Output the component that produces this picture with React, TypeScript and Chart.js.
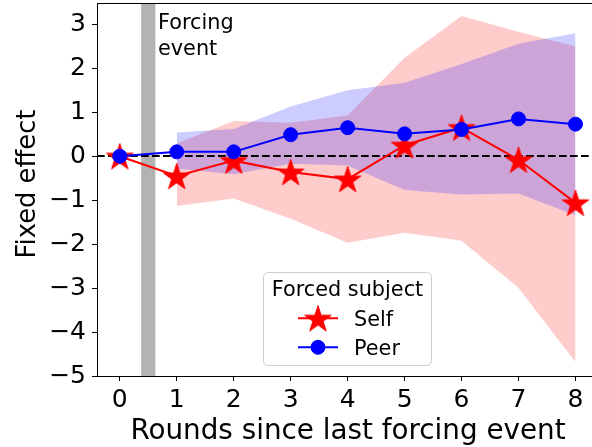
import React, { useEffect, useRef } from 'react';
import { Chart, registerables } from 'chart.js';

Chart.register(...registerables);

const rounds = [0, 1, 2, 3, 4, 5, 6, 7, 8];
const selfEffect = [0, -0.45, -0.1, -0.36, -0.52, 0.25, 0.65, -0.08, -1.06];
const peerEffect = [0, 0.1, 0.1, 0.49, 0.65, 0.51, 0.61, 0.85, 0.73];
const ciRounds = [1, 2, 3, 4, 5, 6, 7, 8];
const selfUpper = [0.29, 0.8, 0.76, 0.93, 2.24, 3.19, 2.83, 2.5];
const selfLower = [-1.13, -0.96, -1.42, -1.97, -1.74, -1.92, -3.0, -4.68];
const peerUpper = [0.54, 0.62, 1.13, 1.5, 1.67, 2.1, 2.56, 2.8];
const peerLower = [-0.28, -0.41, -0.17, -0.21, -0.77, -0.87, -0.85, -1.34];
const xTicks = [0, 1, 2, 3, 4, 5, 6, 7, 8];
const yTicks = [-5, -4, -3, -2, -1, 0, 1, 2, 3];
const forcingSpan = [0.375, 0.625];
const legendTitle = 'Forced subject';
const seriesNames = ['Self', 'Peer'];
const xTitle = 'Rounds since last forcing event';
const yTitle = 'Fixed effect';
const forcingLabel = ['Forcing', 'event'];

const FONT = '"DejaVu Sans", sans-serif';
const STAR_R = 14;

function starPath(ctx: CanvasRenderingContext2D, cx: number, cy: number, R: number) {
  const r = R * 0.381966;
  ctx.beginPath();
  for (let i = 0; i < 10; i++) {
    const rad = i % 2 === 0 ? R : r;
    const a = -Math.PI / 2 + (i * Math.PI) / 5;
    const px = cx + rad * Math.cos(a);
    const py = cy + rad * Math.sin(a);
    if (i === 0) ctx.moveTo(px, py);
    else ctx.lineTo(px, py);
  }
  ctx.closePath();
}

function makeStar(): HTMLCanvasElement {
  const c = document.createElement('canvas');
  const s = Math.ceil(STAR_R * 2 + 4);
  c.width = s;
  c.height = s;
  const ctx = c.getContext('2d')!;
  starPath(ctx, s / 2, s / 2 + STAR_R * 0.095, STAR_R);
  ctx.fillStyle = '#ff0000';
  ctx.fill();
  ctx.strokeStyle = '#ff0000';
  ctx.lineWidth = 1;
  ctx.stroke();
  return c;
}

const pts = (xs: number[], ys: number[]) => xs.map((x, i) => ({ x, y: ys[i] }));

export default function App() {
  const ref = useRef<HTMLCanvasElement>(null);
  useEffect(() => {
    const canvas = ref.current!;
    const star = makeStar();

    const decor = {
      id: 'decor',
      beforeDatasetsDraw(chart: any) {
        const { ctx, chartArea } = chart;
        const xs = chart.scales.x;
        ctx.save();
        ctx.fillStyle = '#b3b3b3';
        const x0 = xs.getPixelForValue(forcingSpan[0]);
        const x1 = xs.getPixelForValue(forcingSpan[1]);
        ctx.fillRect(x0, chartArea.top, x1 - x0, chartArea.bottom - chartArea.top);
        ctx.restore();
      },
      beforeDatasetDraw(chart: any, args: any) {
        if (args.index !== 1) return;
        const { ctx, chartArea } = chart;
        const y0 = Math.round(chart.scales.y.getPixelForValue(0));
        ctx.save();
        ctx.strokeStyle = '#000';
        ctx.lineWidth = 2;
        ctx.setLineDash([7.7, 3.3]);
        ctx.beginPath();
        ctx.moveTo(chartArea.left, y0);
        ctx.lineTo(chartArea.right, y0);
        ctx.stroke();
        ctx.restore();
      },
      afterDraw(chart: any) {
        const { ctx, chartArea } = chart;
        ctx.save();
        // top spine
        ctx.strokeStyle = '#000';
        ctx.lineWidth = 1;
        ctx.beginPath();
        ctx.moveTo(chartArea.left, Math.floor(chartArea.top) + 0.5);
        ctx.lineTo(chartArea.right, Math.floor(chartArea.top) + 0.5);
        ctx.stroke();

        // forcing label
        ctx.fillStyle = '#000';
        ctx.font = `20.8px ${FONT}`;
        ctx.textAlign = 'left';
        ctx.textBaseline = 'alphabetic';
        ctx.fillText(forcingLabel[0], 158, 28.5);
        ctx.fillText(forcingLabel[1], 158, 55);

        // axis titles
        ctx.font = `27.8px ${FONT}`;
        ctx.textAlign = 'center';
        ctx.fillText(xTitle, 348, 439.3);
        ctx.font = `25.8px ${FONT}`;
        ctx.save();
        ctx.translate(35, 184);
        ctx.rotate(-Math.PI / 2);
        ctx.fillText(yTitle, 0, 0);
        ctx.restore();

        // legend
        const bx = 263.5, by = 272.5, bw = 168, bh = 93, rr = 5;
        ctx.beginPath();
        ctx.moveTo(bx + rr, by);
        ctx.lineTo(bx + bw - rr, by);
        ctx.quadraticCurveTo(bx + bw, by, bx + bw, by + rr);
        ctx.lineTo(bx + bw, by + bh - rr);
        ctx.quadraticCurveTo(bx + bw, by + bh, bx + bw - rr, by + bh);
        ctx.lineTo(bx + rr, by + bh);
        ctx.quadraticCurveTo(bx, by + bh, bx, by + bh - rr);
        ctx.lineTo(bx, by + rr);
        ctx.quadraticCurveTo(bx, by, bx + rr, by);
        ctx.closePath();
        ctx.fillStyle = 'rgba(255,255,255,0.8)';
        ctx.fill();
        ctx.strokeStyle = '#cccccc';
        ctx.lineWidth = 1;
        ctx.stroke();

        ctx.fillStyle = '#000';
        ctx.font = `20.8px ${FONT}`;
        ctx.textAlign = 'center';
        ctx.textBaseline = 'alphabetic';
        ctx.fillText(legendTitle, 347.5, 295.7);

        const rows = [318.3, 347.3];
        const colors = ['#ff0000', '#0000ff'];
        rows.forEach((ry, i) => {
          ctx.strokeStyle = colors[i];
          ctx.lineWidth = 2;
          ctx.beginPath();
          ctx.moveTo(298, ry);
          ctx.lineTo(338, ry);
          ctx.stroke();
          if (i === 0) {
            ctx.drawImage(star, 318 - star.width / 2, ry - star.height / 2);
          } else {
            ctx.beginPath();
            ctx.arc(318, ry, 7, 0, Math.PI * 2);
            ctx.fillStyle = colors[i];
            ctx.fill();
            ctx.lineWidth = 1;
            ctx.stroke();
          }
          ctx.fillStyle = '#000';
          ctx.textAlign = 'left';
          ctx.textBaseline = 'alphabetic';
          ctx.fillText(seriesNames[i], 354, ry + 7.5);
        });
        ctx.restore();
      },
    };

    const chart = new Chart(canvas, {
      type: 'line',
      data: {
        datasets: [
          {
            label: seriesNames[1],
            data: pts(rounds, peerEffect),
            borderColor: '#0000ff',
            backgroundColor: '#0000ff',
            borderWidth: 2,
            pointRadius: 7,
            pointBorderWidth: 1,
            pointStyle: 'circle',
            fill: false,
          },
          {
            label: seriesNames[0],
            data: pts(rounds, selfEffect),
            borderColor: '#ff0000',
            backgroundColor: '#ff0000',
            borderWidth: 2,
            pointRadius: STAR_R,
            pointStyle: star as any,
            fill: false,
          },
          {
            label: 'peerUpper',
            data: pts(ciRounds, peerUpper),
            borderWidth: 0,
            borderColor: 'rgba(0,0,0,0)',
            pointRadius: 0,
            backgroundColor: 'rgba(0,0,255,0.2)',
            fill: 3,
          },
          {
            label: 'peerLower',
            data: pts(ciRounds, peerLower),
            borderWidth: 0,
            borderColor: 'rgba(0,0,0,0)',
            pointRadius: 0,
            fill: false,
          },
          {
            label: 'selfUpper',
            data: pts(ciRounds, selfUpper),
            borderWidth: 0,
            borderColor: 'rgba(0,0,0,0)',
            pointRadius: 0,
            backgroundColor: 'rgba(255,0,0,0.2)',
            fill: 5,
          },
          {
            label: 'selfLower',
            data: pts(ciRounds, selfLower),
            borderWidth: 0,
            borderColor: 'rgba(0,0,0,0)',
            pointRadius: 0,
            fill: false,
          },
        ],
      },
      options: {
        animation: false,
        responsive: false,
        devicePixelRatio: 1,
        layout: { autoPadding: false, padding: { top: 3, right: 0, left: 0, bottom: 0 } },
        plugins: {
          legend: { display: false },
          tooltip: { enabled: false },
          filler: { propagate: false },
        },
        scales: {
          x: {
            type: 'linear',
            min: -0.4,
            max: 8.29,
            afterBuildTicks: (s: any) => {
              s.ticks = xTicks.map((v) => ({ value: v }));
            },
            afterFit: (s: any) => {
              s.height = 71;
              s.paddingLeft = 0;
              s.paddingRight = 0;
            },
            ticks: {
              color: '#000',
              font: { family: FONT, size: 25 },
              padding: 4,
              maxRotation: 0,
              autoSkip: false,
              callback: (v: any) => String(v),
            },
            grid: {
              display: true,
              drawOnChartArea: false,
              drawTicks: true,
              tickLength: 5,
              color: '#000',
              lineWidth: 1,
            },
            border: { display: true, color: '#000', width: 1 },
          },
          y: {
            type: 'linear',
            min: -5,
            max: 3.487,
            afterBuildTicks: (s: any) => {
              s.ticks = yTicks.map((v) => ({ value: v }));
            },
            afterFit: (s: any) => {
              s.width = 97;
              s.paddingTop = 0;
              s.paddingBottom = 0;
            },
            ticks: {
              color: '#000',
              font: { family: FONT, size: 25 },
              padding: 6,
              autoSkip: false,
              callback: (v: any) => String(v).replace('-', '\u2212'),
            },
            grid: {
              display: true,
              drawOnChartArea: false,
              drawTicks: true,
              tickLength: 5,
              color: '#000',
              lineWidth: 1,
            },
            border: { display: true, color: '#000', width: 1 },
          },
        },
      },
      plugins: [decor],
    });
    return () => chart.destroy();
  }, []);

  return (
    <canvas
      ref={ref}
      width={592}
      height={447}
      style={{ position: 'fixed', left: 0, top: 0, width: 592, height: 447 }}
    />
  );
}
